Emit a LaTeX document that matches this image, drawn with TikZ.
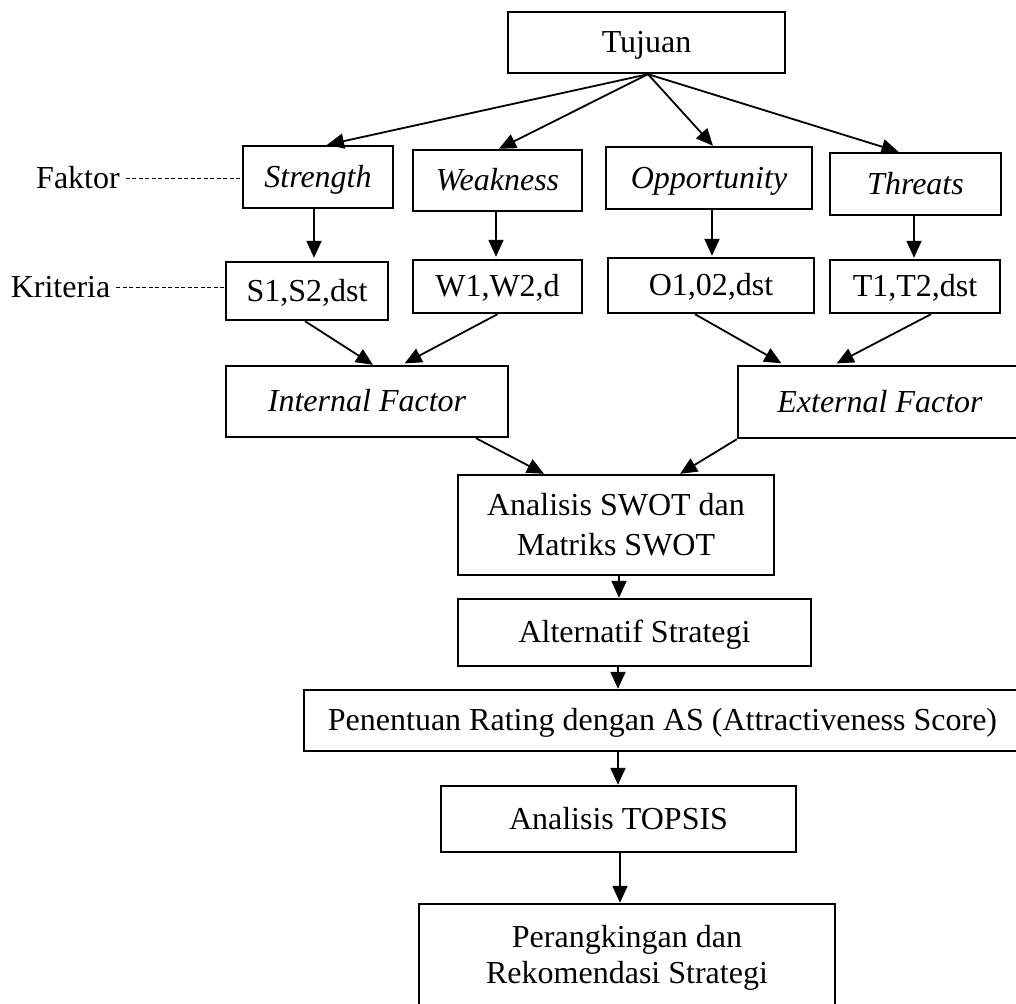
\documentclass[tikz,border=0pt]{standalone}
\usepackage{fontspec}
\setmainfont{Liberation Serif}
\usetikzlibrary{arrows.meta}

\tikzset{
  box/.style={draw, line width=2.4pt, inner sep=0pt, align=center,
    font=\fontsize{32}{40}\selectfont},
  oneline/.style={box, text height=26pt, text depth=6pt},
  lbl/.style={inner sep=6pt, text height=26pt, text depth=6pt,
    font=\fontsize{32}{40}\selectfont},
  arr/.style={line width=1.8pt, -{Triangle[length=17pt,width=15pt]}},
  leader/.style={line width=1pt, dash pattern=on 4pt off 2.5pt},
}

\begin{document}
\begin{tikzpicture}[x=1pt, y=-1pt]
  \useasboundingbox (0,0) rectangle (1016,1003);
  \fill[white] (0,0) rectangle (1016,1003);
  \clip (0,0) rectangle (1016,1003);

  % goal
  \node[oneline, minimum width=277, minimum height=61] (tuj) at (646.5,42.5) {Tujuan};

  % SWOT factors
  \node[oneline, minimum width=150, minimum height=62] (str) at (318,177) {\itshape Strength};
  \node[oneline, minimum width=169, minimum height=61] (wea) at (497.5,180.5) {\itshape Weakness};
  \node[oneline, minimum width=206, minimum height=62] (opp) at (709,178) {\itshape Opportunity};
  \node[oneline, minimum width=171, minimum height=62] (thr) at (915.5,184) {\itshape Threats};

  % criteria
  \node[oneline, minimum width=162, minimum height=58] (s1) at (307,291) {S1,S2,dst};
  \node[oneline, minimum width=169, minimum height=53] (w1) at (497.5,286.5) {W1,W2,d};
  \node[oneline, minimum width=206, minimum height=55] (o1) at (711,285.5) {O1,02,dst};
  \node[oneline, minimum width=170, minimum height=53] (t1) at (915,286.5) {T1,T2,dst};

  % internal / external
  \node[oneline, minimum width=282, minimum height=71] (int) at (367,401.5) {\itshape Internal Factor};
  \node[oneline, minimum width=284, minimum height=72] (ext) at (880,402) {\itshape External Factor};

  % process chain
  \node[box, minimum width=316, minimum height=100] (ana) at (616,525)
    {Analisis SWOT dan\\Matriks SWOT};
  \node[oneline, minimum width=353, minimum height=67] (alt) at (634.5,632.5) {Alternatif Strategi};
  \node[oneline, minimum width=717, minimum height=61] (pen) at (662.5,720.5)
    {Penentuan Rating dengan AS (Attractiveness Score)};
  \node[oneline, minimum width=355, minimum height=66] (top) at (618.5,819) {Analisis TOPSIS};
  \node[box, minimum width=416, minimum height=108,
        font=\fontsize{32}{36}\selectfont] (per) at (627,958)
    {Perangkingan dan\\Rekomendasi Strategi};

  % side labels
  \node[lbl] (fak) at (78,178) {Faktor};
  \node[lbl] (kri) at (60.5,287) {Kriteria};
  \draw[leader] (fak.east) -- (fak.east -| str.west);
  \draw[leader] (kri.east) -- (kri.east -| s1.west);

  % goal to factors
  \coordinate (hub) at ([xshift=1.5pt]tuj.south);
  \draw[arr] (hub) -- ([xshift=9pt]str.north);
  \draw[arr] (hub) -- ([xshift=1.5pt]wea.north);
  \draw[arr] (hub) -- ([xshift=4pt]opp.north);
  \draw[arr] (hub) -- ([xshift=-17pt]thr.north);

  % factors to criteria
  \draw[arr, shorten >=3pt] ([xshift=-4pt]str.south) -- ([xshift=-4pt]str.south |- s1.north);
  \draw[arr, shorten >=2pt] ([xshift=-1.5pt]wea.south) -- ([xshift=-1.5pt]wea.south |- w1.north);
  \draw[arr, shorten >=1pt] ([xshift=3pt]opp.south) -- ([xshift=3pt]opp.south |- o1.north);
  \draw[arr, shorten >=1pt] ([xshift=-1.5pt]thr.south) -- ([xshift=-1.5pt]thr.south |- t1.north);

  % criteria to internal / external
  \draw[arr] ([xshift=-2pt]s1.south) -- ([xshift=6pt]int.north);
  \draw[arr, shorten >=3pt] (w1.south) -- ([xshift=35pt]int.north);
  \draw[arr, shorten >=3pt] ([xshift=-16pt]o1.south) -- ([xshift=-96pt]ext.north);
  \draw[arr, shorten >=3pt] ([xshift=16pt]t1.south) -- ([xshift=-46pt]ext.north);

  % internal / external to analysis
  \draw[arr] ([xshift=109pt]int.south) -- ([xshift=-72pt]ana.north);
  \draw[arr] (ext.south west) -- ([xshift=64pt]ana.north);

  % down the chain
  \draw[arr] ([xshift=3pt]ana.south) -- ([xshift=3pt]ana.south |- alt.north);
  \draw[arr] ([xshift=-16.5pt]alt.south) -- ([xshift=-16.5pt]alt.south |- pen.north);
  \draw[arr] ([xshift=-44.5pt]pen.south) -- ([xshift=-44.5pt]pen.south |- top.north);
  \draw[arr] ([xshift=1.5pt]top.south) -- ([xshift=1.5pt]top.south |- per.north);
\end{tikzpicture}
\end{document}
